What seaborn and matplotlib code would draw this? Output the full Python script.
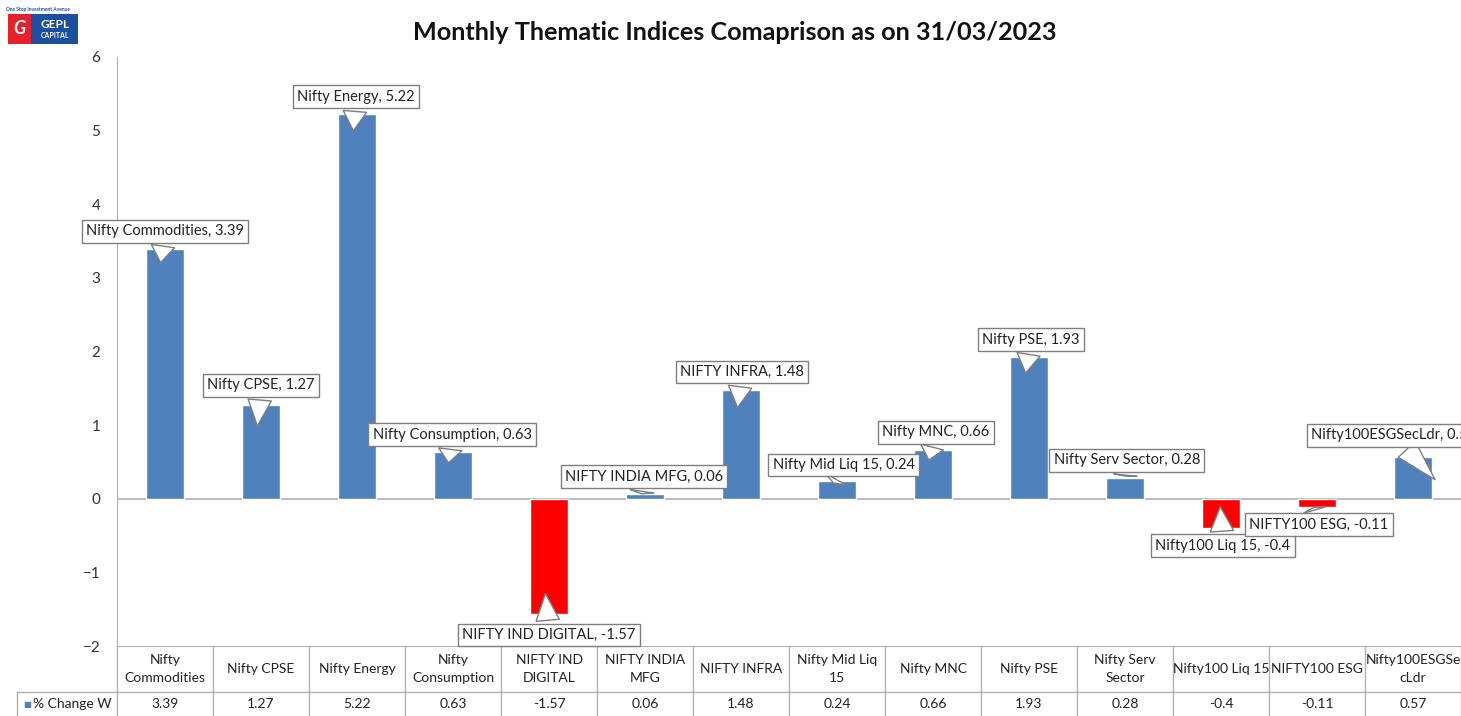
import matplotlib
matplotlib.use("Agg")
import matplotlib.pyplot as plt
from matplotlib.patches import Rectangle
import seaborn as sns
import pandas as pd

# data
names = ["Nifty Commodities", "Nifty CPSE", "Nifty Energy", "Nifty Consumption",
         "NIFTY IND DIGITAL", "NIFTY INDIA MFG", "NIFTY INFRA", "Nifty Mid Liq 15",
         "Nifty MNC", "Nifty PSE", "Nifty Serv Sector", "Nifty100 Liq 15",
         "NIFTY100 ESG", "Nifty100ESGSecLdr"]
table_labels = ["Nifty\nCommodities", "Nifty CPSE", "Nifty Energy", "Nifty\nConsumption",
                "NIFTY IND\nDIGITAL", "NIFTY INDIA\nMFG", "NIFTY INFRA", "Nifty Mid Liq\n15",
                "Nifty MNC", "Nifty PSE", "Nifty Serv\nSector", "Nifty100 Liq 15",
                "NIFTY100 ESG", "Nifty100ESGSe\ncLdr"]
pct_change = [3.39, 1.27, 5.22, 0.63, -1.57, 0.06, 1.48, 0.24, 0.66, 1.93, 0.28, -0.4, -0.11, 0.57]
series_name = "% Change W"

# callout layout: (box x, box y, arrow tip x offset, arrow tip y)
callouts = [(0.0, 3.63, -0.05, 3.17), (1.0, 1.54, -0.04, 0.95), (1.99, 5.46, -0.04, 4.96),
            (2.99, 0.87, -0.05, 0.45), (4.0, -1.85, -0.04, -1.25), (4.99, 0.30, -0.04, 0.03),
            (6.01, 1.72, -0.04, 1.2), (7.07, 0.46, -0.05, 0.18), (8.03, 0.90, -0.05, 0.49),
            (9.02, 1.97 + 0.19, -0.04, 1.67), (10.02, 0.52, 0.0, 0.27), (11.02, -0.64, -0.01, -0.07),
            (12.02, -0.35, -0.04, -0.08), (12.8, 0.86, 0.25, 0.23)]

df = pd.DataFrame({"name": names, "value": pct_change})
df["sign"] = ["pos" if v >= 0 else "neg" for v in pct_change]

sns.set_style("white")
plt.rcParams["font.family"] = ["Lato", "DejaVu Sans"]

fig = plt.figure(figsize=(14.61, 7.16), dpi=100)
ax = fig.add_axes([117 / 1461, 1 - 646 / 716, 1 - 117 / 1461, (646 - 57) / 716])

sns.barplot(data=df, x="name", y="value", hue="sign",
            palette={"pos": "#4F81BD", "neg": "#FF0000"},
            dodge=False, width=0.4, legend=False, ax=ax, saturation=1)

ax.set_xlim(-0.5, len(names) - 0.5)
ax.set_ylim(-2, 6)
ax.set_yticks(range(-2, 7))
ax.tick_params(axis="y", length=0, pad=12, labelsize=11, labelcolor="#333333")
ax.set_xticks([])
ax.set_xlabel("")
ax.set_ylabel("")
for s in ["top", "right"]:
    ax.spines[s].set_visible(False)
grid_c = "#B0B0B0"
ax.spines["left"].set_color(grid_c)
ax.spines["bottom"].set_color(grid_c)
ax.axhline(0, color=grid_c, lw=1.2, zorder=0)

# callout labels
for i, (name, v) in enumerate(zip(names, pct_change)):
    bx, by, dx, ty = callouts[i]
    ax.annotate(f"{name}, {v:g}", xy=(i + dx, ty), xytext=(bx, by),
                ha="center", va="center", fontsize=10.5, color="#222222",
                bbox=dict(boxstyle="square,pad=0.3", fc="white", ec="#7F7F7F", lw=1),
                arrowprops=dict(arrowstyle="wedge,tail_width=1.6,shrink_factor=0.5",
                                fc="white", ec="#7F7F7F", lw=1),
                annotation_clip=False, zorder=5)

# data table under the chart
tr = ax.get_xaxis_transform()
h = 589
y_hdr = -46 / h
y_end = -80 / h
for k in range(len(names) + 1):
    ax.plot([k - 0.5, k - 0.5], [0, y_end], color=grid_c, lw=1, transform=tr, clip_on=False)
left_x = -1.54
ax.plot([left_x, len(names) - 0.5], [y_hdr, y_hdr], color=grid_c, lw=1, transform=tr, clip_on=False)
ax.plot([left_x, left_x], [y_hdr, y_end], color=grid_c, lw=1, transform=tr, clip_on=False)
for i, (lab, v) in enumerate(zip(table_labels, pct_change)):
    ax.text(i, -23 / h, lab, transform=tr, ha="center", va="center",
            fontsize=10, color="#222222", linespacing=1.5)
    ax.text(i, -58 / h, f"{v:g}", transform=tr, ha="center", va="center",
            fontsize=10, color="#222222")
ax.text(left_x + 0.06, -58 / h, "\u25a0", transform=tr, ha="left", va="center",
        fontsize=6, color="#4F81BD", family="DejaVu Sans")
ax.text(left_x + 0.17, -58 / h, series_name, transform=tr, ha="left", va="center",
        fontsize=10, color="#222222")

fig.text(735 / 1461, 1 - 32 / 716, "Monthly Thematic Indices Comaprison as on 31/03/2023",
         ha="center", va="center", fontsize=18.2, fontweight="bold", color="#111111")

# logo
fig.patches.append(Rectangle((8 / 1461, 1 - 44 / 716), 23 / 1461, 30 / 716,
                             transform=fig.transFigure, fc="#E8202A", ec="none"))
fig.patches.append(Rectangle((31 / 1461, 1 - 44 / 716), 47 / 1461, 30 / 716,
                             transform=fig.transFigure, fc="#1B4FA0", ec="none"))
fig.text(19 / 1461, 1 - 29 / 716, "G", ha="center", va="center", color="white",
         fontsize=13, fontstyle="italic", fontweight="bold")
fig.text(55 / 1461, 1 - 24 / 716, "GEPL", ha="center", va="center", color="white",
         fontsize=8.5, fontweight="bold")
fig.text(55 / 1461, 1 - 36 / 716, "CAPITAL", ha="center", va="center", color="white",
         fontsize=5, fontweight="bold")
fig.text(38 / 1461, 1 - 10 / 716, "One Stop Investment Avenue", ha="center", va="center",
         color="#1B4FA0", fontsize=3.5, fontweight="bold")

fig.savefig("out.png", dpi=100)
